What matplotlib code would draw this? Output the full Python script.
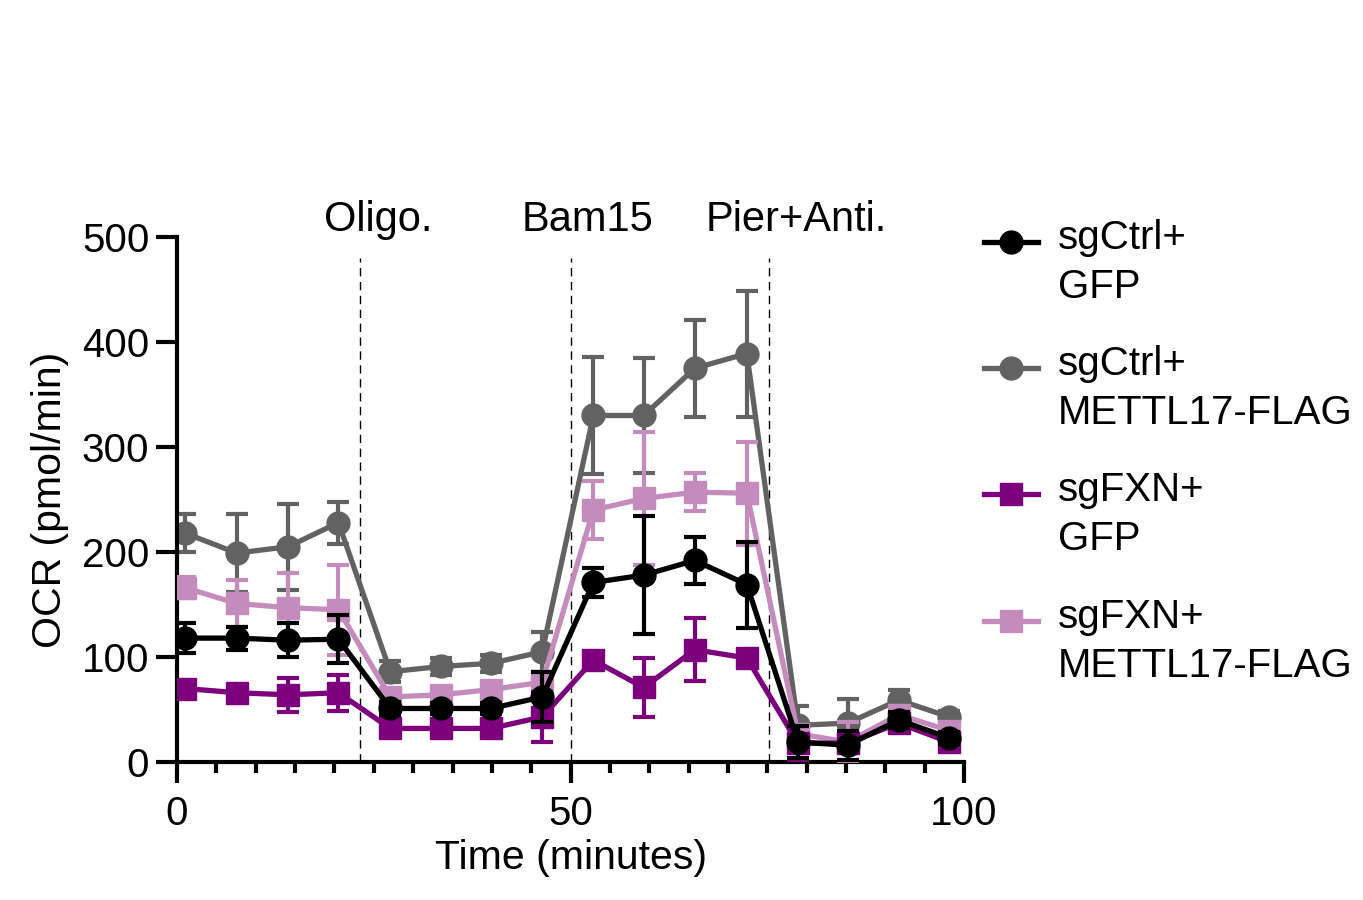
import numpy as np
import matplotlib.pyplot as plt
from matplotlib.ticker import MultipleLocator
from matplotlib.legend_handler import HandlerLine2D

plt.rcParams['font.family'] = ['Liberation Sans', 'DejaVu Sans']

# time points (minutes)
time = [1.0, 7.6, 14.1, 20.5, 27.1, 33.5, 39.9, 46.4,
        52.9, 59.3, 65.8, 72.4, 78.9, 85.2, 91.7, 98.1]

# OCR means and error bars
ctrl_gfp = [118, 118, 116, 117, 51, 51, 51, 62, 171, 178, 192, 169, 19, 16, 40, 23]
ctrl_gfp_err = [14, 11, 16, 23, 6, 5, 5, 24, 14, 56, 22, 41, 15, 14, 8, 6]

ctrl_mettl = [218, 199, 205, 228, 86, 91, 94, 105, 330, 330, 375, 389, 35, 37, 59, 43]
ctrl_mettl_err = [18, 37, 41, 20, 10, 8, 8, 19, 56, 55, 46, 60, 18, 23, 10, 6]

fxn_gfp = [70, 66, 64, 66, 32, 32, 32, 43, 97, 71, 107, 99, 18, 18, 37, 19]
fxn_gfp_err = [5, 5, 16, 17, 5, 4, 4, 24, 8, 28, 30, 6, 16, 6, 6, 5]

fxn_mettl = [166, 151, 147, 145, 62, 64, 69, 76, 240, 251, 257, 256, 27, 19, 45, 30]
fxn_mettl_err = [10, 22, 33, 43, 6, 6, 6, 10, 28, 63, 18, 49, 8, 19, 8, 6]

labels = ['sgCtrl+\nGFP', 'sgCtrl+\nMETTL17-FLAG', 'sgFXN+\nGFP', 'sgFXN+\nMETTL17-FLAG']
injections = [23.2, 50.0, 75.2]
inj_names = ['Oligo.', 'Bam15', 'Pier+Anti.']
inj_text_x = [25.6, 52.1, 78.7]


class FirstLineHandler(HandlerLine2D):
    # put the legend symbol next to the first line of a two-line label
    def create_artists(self, legend, orig_handle, xdescent, ydescent,
                       width, height, fontsize, trans):
        return super().create_artists(legend, orig_handle, xdescent,
                                      ydescent - 31, width, height,
                                      fontsize, trans)


fig = plt.figure(figsize=(13.63, 9), dpi=100)
ax = fig.add_axes([0.1299, 0.1533, 0.5774, 0.5834])

series = [
    (ctrl_gfp, ctrl_gfp_err, '#000000', 'o', 5),
    (ctrl_mettl, ctrl_mettl_err, '#626262', 'o', 2),
    (fxn_gfp, fxn_gfp_err, '#7d007d', 's', 4),
    (fxn_mettl, fxn_mettl_err, '#c48cbc', 's', 3),
]

handles = []
for (y, err, col, mk, z), lab in zip(series, labels):
    ax.errorbar(time, y, yerr=err, fmt='none', ecolor=col, elinewidth=3,
                capsize=8, capthick=3, zorder=z)
    h, = ax.plot(time, y, color=col, lw=3.8, marker=mk, ms=16.5,
                 mec=col, mfc=col, zorder=z + 0.5, label=lab)
    handles.append(h)

for xv in injections:
    ax.plot([xv, xv], [0, 480], color='black', lw=1, ls=(0, (6, 4)), zorder=1)

for xv, name in zip(inj_text_x, inj_names):
    ax.text(xv, 505.5, name, ha='center', va='baseline', fontsize=30,
            clip_on=False)

ax.set_xlim(0, 100)
ax.set_ylim(0, 500)
ax.xaxis.set_major_locator(MultipleLocator(50))
ax.xaxis.set_minor_locator(MultipleLocator(5))
ax.yaxis.set_major_locator(MultipleLocator(100))

for s in ['top', 'right']:
    ax.spines[s].set_visible(False)
for s in ['left', 'bottom']:
    ax.spines[s].set_linewidth(3)

ax.tick_params(which='major', length=15, width=3, labelsize=29)
ax.tick_params(axis='x', which='minor', length=8, width=3)
ax.tick_params(axis='x', which='major', pad=9)
ax.tick_params(axis='y', which='major', pad=5)

ax.set_xlabel('Time (minutes)', fontsize=29.5, labelpad=4)
ax.set_ylabel('OCR (pmol/min)', fontsize=29.5, labelpad=9)

leg = fig.legend(handles=handles, labels=labels, loc='upper left',
                 bbox_to_anchor=(0.695, 0.797), frameon=False, fontsize=29,
                 handlelength=1.35, handletextpad=0.5, labelspacing=0.98,
                 handler_map={h: FirstLineHandler() for h in handles})
for t in leg.get_texts():
    t.set_linespacing(1.36)

fig.savefig('out.png', dpi=100)
